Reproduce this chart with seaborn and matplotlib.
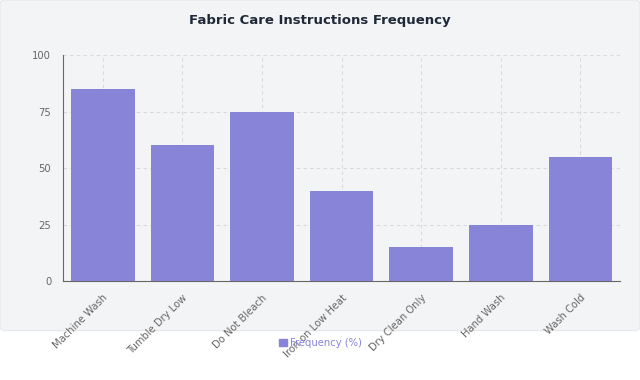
import matplotlib
matplotlib.use("Agg")
import matplotlib.pyplot as plt
from matplotlib.patches import FancyBboxPatch
import pandas as pd
import seaborn as sns

CATEGORIES = [
    "Machine Wash",
    "Tumble Dry Low",
    "Do Not Bleach",
    "Iron on Low Heat",
    "Dry Clean Only",
    "Hand Wash",
    "Wash Cold",
]
FREQUENCY = [85, 60, 75, 40, 15, 25, 55]
Y_TICKS = [0, 25, 50, 75, 100]

BAR_COLOR = "#8884d8"
PANEL_COLOR = "#f3f4f6"
AXIS_COLOR = "#666666"

sns.set_theme(style="white")
plt.rcParams["font.family"] = ["DejaVu Sans"]

df = pd.DataFrame({"care": CATEGORIES, "freq": FREQUENCY})

fig = plt.figure(figsize=(6.4, 3.8), dpi=100)
fig.patch.set_facecolor("white")
panel = FancyBboxPatch(
    (0.0, 0.13), 1.0, 0.87,
    boxstyle="round,pad=0,rounding_size=0.01",
    transform=fig.transFigure,
    facecolor=PANEL_COLOR,
    edgecolor="#e5e7eb",
    linewidth=0.8,
    zorder=-10,
)
fig.patches.append(panel)

ax = fig.add_axes([0.0984, 0.2605, 0.8706, 0.5945])
ax.set_facecolor(PANEL_COLOR)
sns.barplot(data=df, x="care", y="freq", color=BAR_COLOR, width=0.8,
            saturation=1, linewidth=0, ax=ax, zorder=3)

ax.set_ylim(0, 100)
ax.set_yticks(Y_TICKS)
ax.set_xlim(-0.5, len(CATEGORIES) - 0.5)
ax.grid(True, axis="both", linestyle=(0, (3, 3)), color="#d9d9d9", linewidth=0.8, zorder=0)
ax.set_axisbelow(True)

for side in ["top", "right"]:
    ax.spines[side].set_visible(False)
for side in ["left", "bottom"]:
    ax.spines[side].set_color(AXIS_COLOR)
    ax.spines[side].set_linewidth(0.8)

ax.tick_params(axis="both", colors=AXIS_COLOR, length=5, width=0.8, labelsize=7.2, direction="out")
ax.tick_params(axis="x", labelrotation=45)
for lab in ax.get_xticklabels():
    lab.set_ha("right")
    lab.set_rotation_mode("anchor")
ax.set_xlabel("")
ax.set_ylabel("")

fig.text(0.5, 0.945, "Fabric Care Instructions Frequency", ha="center", va="center",
         fontsize=9.5, fontweight="bold", color="#1f2937")

handle = plt.Rectangle((0, 0), 1, 1, color=BAR_COLOR)
leg = fig.legend([handle], ["Frequency (%)"], loc="center", bbox_to_anchor=(0.5, 0.097),
                 frameon=False, fontsize=7.2, handlelength=0.8, handleheight=0.8,
                 handletextpad=0.3)
for t in leg.get_texts():
    t.set_color(BAR_COLOR)

fig.savefig("out.png", dpi=100)
